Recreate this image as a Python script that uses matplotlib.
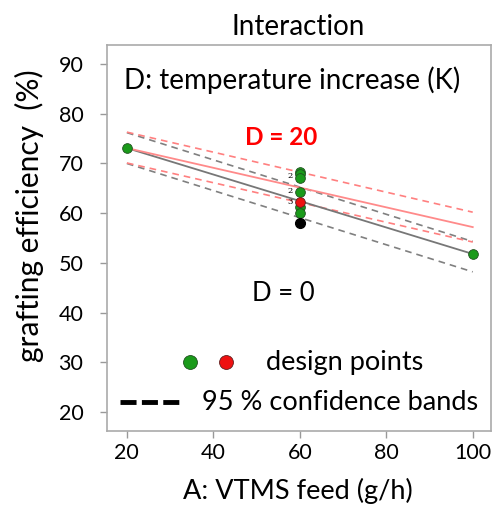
import matplotlib
matplotlib.use("Agg")
import matplotlib.pyplot as plt

plt.rcParams["font.family"] = ["Lato", "DejaVu Sans"]

# fitted lines at the two ends of the feed range
feed_ends = [20, 100]
fit_d0 = [73.1, 51.8]
lo_d0 = [70.0, 48.2]
hi_d0 = [76.2, 54.3]
fit_d20 = [73.1, 57.2]
lo_d20 = [70.1, 54.2]
hi_d20 = [76.3, 60.2]

# design points
green_x = [20, 100, 60, 60, 60, 60, 60, 60]
green_y = [73.1, 51.8, 68.3, 67.8, 67.1, 64.2, 61.2, 60.0]
red_x = [60]
red_y = [62.3]
black_x = [60]
black_y = [58.0]

# multiplicity labels beside the centre points
mult_y = [67.4, 64.4, 62.2]
mult_txt = ["2", "2", "3"]

fig = plt.figure(figsize=(4.96, 5.07), dpi=100)
ax = fig.add_axes([0.2157, 0.150, 0.774, 0.761])

# D = 0 (black/gray)
ax.plot(feed_ends, fit_d0, color="#777777", lw=1.3, zorder=3)
ax.plot(feed_ends, lo_d0, color="#808080", lw=1.2, ls=(0, (4, 3)), zorder=2)
ax.plot(feed_ends, hi_d0, color="#808080", lw=1.2, ls=(0, (4, 3)), zorder=2)
# D = 20 (red)
ax.plot(feed_ends, fit_d20, color="#ff8a8a", lw=1.3, zorder=3)
ax.plot(feed_ends, lo_d20, color="#ff8080", lw=1.2, ls=(0, (4, 3)), zorder=2)
ax.plot(feed_ends, hi_d20, color="#ff8080", lw=1.2, ls=(0, (4, 3)), zorder=2)

ax.plot(green_x, green_y, "o", color="#1a9a1a", mec="#205020", mew=0.6, ms=7, zorder=5)
ax.plot(red_x, red_y, "o", color="#ee1111", mec="#602020", mew=0.6, ms=7, zorder=6)
ax.plot(black_x, black_y, "o", color="black", ms=7, zorder=5)
for yv, t in zip(mult_y, mult_txt):
    ax.text(58.4, yv, t, fontsize=6, ha="right", va="center", family="DejaVu Serif")

ax.text(58.2, 86.8, "D: temperature increase (K)", fontsize=20, ha="center", va="center")
ax.text(55.6, 75.3, "D = 20", fontsize=17.5, color="#ff0000", fontweight="bold",
        ha="center", va="center")
ax.text(56.1, 43.9, "D = 0", fontsize=18.5, ha="center", va="center")

# hand-made legend
ax.plot([34.6], [30.0], "o", color="#1a9a1a", mec="#205020", mew=0.6, ms=10)
ax.plot([42.9], [30.0], "o", color="#ee1111", mec="#602020", mew=0.6, ms=10)
ax.text(52.1, 30.0, "design points", fontsize=19.5, ha="left", va="center")
ax.plot([18.5, 32.0], [22.0, 22.0], color="black", lw=3.5, ls=(0, (3.3, 1.1)),
        solid_capstyle="butt", dash_capstyle="butt")
ax.text(37.3, 22.0, "95 % confidence bands", fontsize=19.5, ha="left", va="center")

ax.set_xlim(15.4, 104.2)
ax.set_ylim(16.2, 93.8)
ax.set_xticks([20, 40, 60, 80, 100])
ax.set_yticks([20, 30, 40, 50, 60, 70, 80, 90])
ax.tick_params(labelsize=15.5, length=5, color="#999999", width=1)
ax.tick_params(axis="y", pad=12)
ax.tick_params(axis="x", pad=4)
for s in ax.spines.values():
    s.set_color("#aaaaaa")
    s.set_linewidth(1.2)

fig.text(298 / 496, 1 - 27 / 507, "Interaction", fontsize=20, ha="center", va="center")
fig.text(29 / 496, 1 - 216 / 507, "grafting efficiency  (%)", fontsize=21.5,
         rotation=90, ha="center", va="center")
fig.text(298 / 496, 1 - 491 / 507, "A: VTMS feed (g/h)", fontsize=19.5,
         ha="center", va="center")

fig.savefig("out.png", dpi=100)
